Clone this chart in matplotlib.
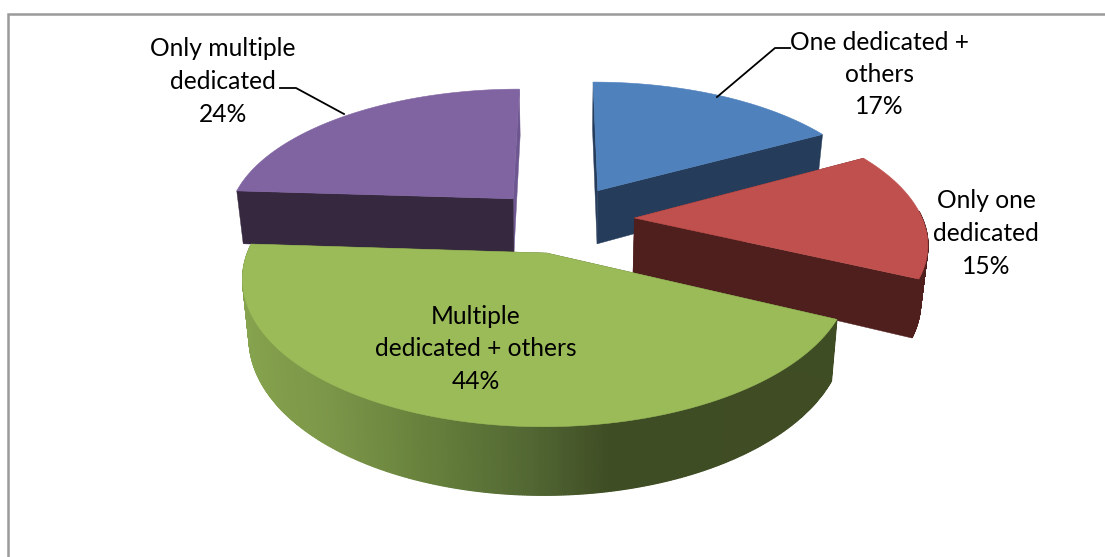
import numpy as np
import matplotlib
matplotlib.use("Agg")
import matplotlib.pyplot as plt
from matplotlib.patches import Polygon

# ---- data ----
categories = ["One dedicated +\nothers", "Only one\ndedicated", "Multiple\ndedicated + others", "Only multiple\ndedicated"]
values = [17, 15, 44, 24]
top_colors = ["#4F81BD", "#C0504D", "#9BBB59", "#8064A2"]
wall_colors = ["#253C5B", "#4F1F1D", "#3F4D24", "#36283F"]
north_wall_colors = ["#253C5B", "#4F1F1D", "#3F4D24", "#6E5790"]
label_xy = [(879, 74.5), (986, 233.5), (476, 349), (223, 81.5)]
leaders = [[(790, 48), (775, 48), (717, 97)], [], [], [(280, 88), (296, 88), (344, 114)]]
slice_nudge = [(-2, -1), (-1, 0), (0, 1), (-5, 3)]

# projection parameters
CX, CY = 565.0, 219.0
R, RK = 288.0, 134.0
P = 0.16
DEPTH = 55.0
BOTTOM_SCALE = 0.98
EXPLODE = 0.245

green_stops_x = [240, 330, 430, 530, 610, 840]
green_stops = ["#86A34E", "#7B9648", "#66803C", "#526733", "#3F4D24", "#3F4C24"]


def project(u, v, bottom=False):
    s = 1.0 / (1.0 + P * v)
    if bottom:
        return CX + R * u * s * BOTTOM_SCALE, CY - RK * v * s + DEPTH * s
    return CX + R * u * s, CY - RK * v * s


def green_color(x):
    stops = np.array([matplotlib.colors.to_rgb(c) for c in green_stops])
    return tuple(np.interp(x, green_stops_x, stops[:, i]) for i in range(3))


fig = plt.figure(figsize=(11.05, 5.57), dpi=100)
ax = fig.add_axes([0, 0, 1, 1])
ax.set_xlim(0, 1105)
ax.set_ylim(557, 0)
ax.axis("off")

# chart frame, running off the right and bottom of the picture
ax.plot([7.5, 7.5, 1105], [557, 13.5, 13.5], color="#9A9A9A", lw=1.8, solid_joinstyle="miter", zorder=1)

fractions = np.array(values, dtype=float) / sum(values)
ends = np.cumsum(fractions) * 2 * np.pi
starts = ends - fractions * 2 * np.pi


def draw_slice(i, z):
    a0, a1 = starts[i], ends[i]
    mid = (a0 + a1) / 2
    ou, ov = EXPLODE * np.sin(mid), EXPLODE * np.cos(mid)
    nx, ny = slice_nudge[i]
    th = np.linspace(a0, a1, 400)
    au, av = ou + np.sin(th), ov + np.cos(th)
    tx, ty = project(au, av)
    bx, by = project(au, av, True)
    tx, bx = tx + nx, bx + nx
    ty, by = ty + ny, by + ny
    ax0, ay0 = project(ou, ov)
    bx0, by0 = project(ou, ov, True)
    ax0, bx0 = ax0 + nx, bx0 + nx
    ay0, by0 = ay0 + ny, by0 + ny
    # outer rim: only the part that faces the viewer
    for j in range(len(th) - 1):
        if np.cos(th[j]) > 0.05:
            continue
        quad = [(tx[j], ty[j]), (tx[j + 1], ty[j + 1]), (bx[j + 1], by[j + 1]), (bx[j], by[j])]
        col = green_color(tx[j]) if i == 2 else wall_colors[i]
        ax.add_patch(Polygon(quad, closed=True, fc=col, ec=col, lw=0.9, zorder=z))
    # radial walls, the one further back first
    for k in sorted((0, -1), key=lambda q: -np.cos(th[q])):
        quad = [(ax0, ay0), (tx[k], ty[k]), (bx[k], by[k]), (bx0, by0)]
        col = north_wall_colors[i] if abs(np.cos(th[k])) > 0.99 else wall_colors[i]
        ax.add_patch(Polygon(quad, closed=True, fc=col, ec=col, lw=0.3, zorder=z + 0.1))
    # top
    pts = [(ax0, ay0)] + list(zip(tx, ty))
    ax.add_patch(Polygon(pts, closed=True, fc=top_colors[i], ec=top_colors[i], lw=0.4, zorder=z + 0.5))


# paint from back to front: blue, purple, red, green
for z, idx in enumerate([0, 3, 1, 2]):
    draw_slice(idx, 10 + z)

for name, v, (lx, ly), lead in zip(categories, values, label_xy, leaders):
    ax.text(lx, ly, f"{name}\n{v}%", ha="center", va="center", fontsize=17.7, family="Lato",
            color="black", linespacing=1.5, zorder=30)
    if lead:
        xs, ys = zip(*lead)
        ax.plot(xs, ys, color="black", lw=1.3, zorder=29)

fig.savefig("out.png", dpi=100)
